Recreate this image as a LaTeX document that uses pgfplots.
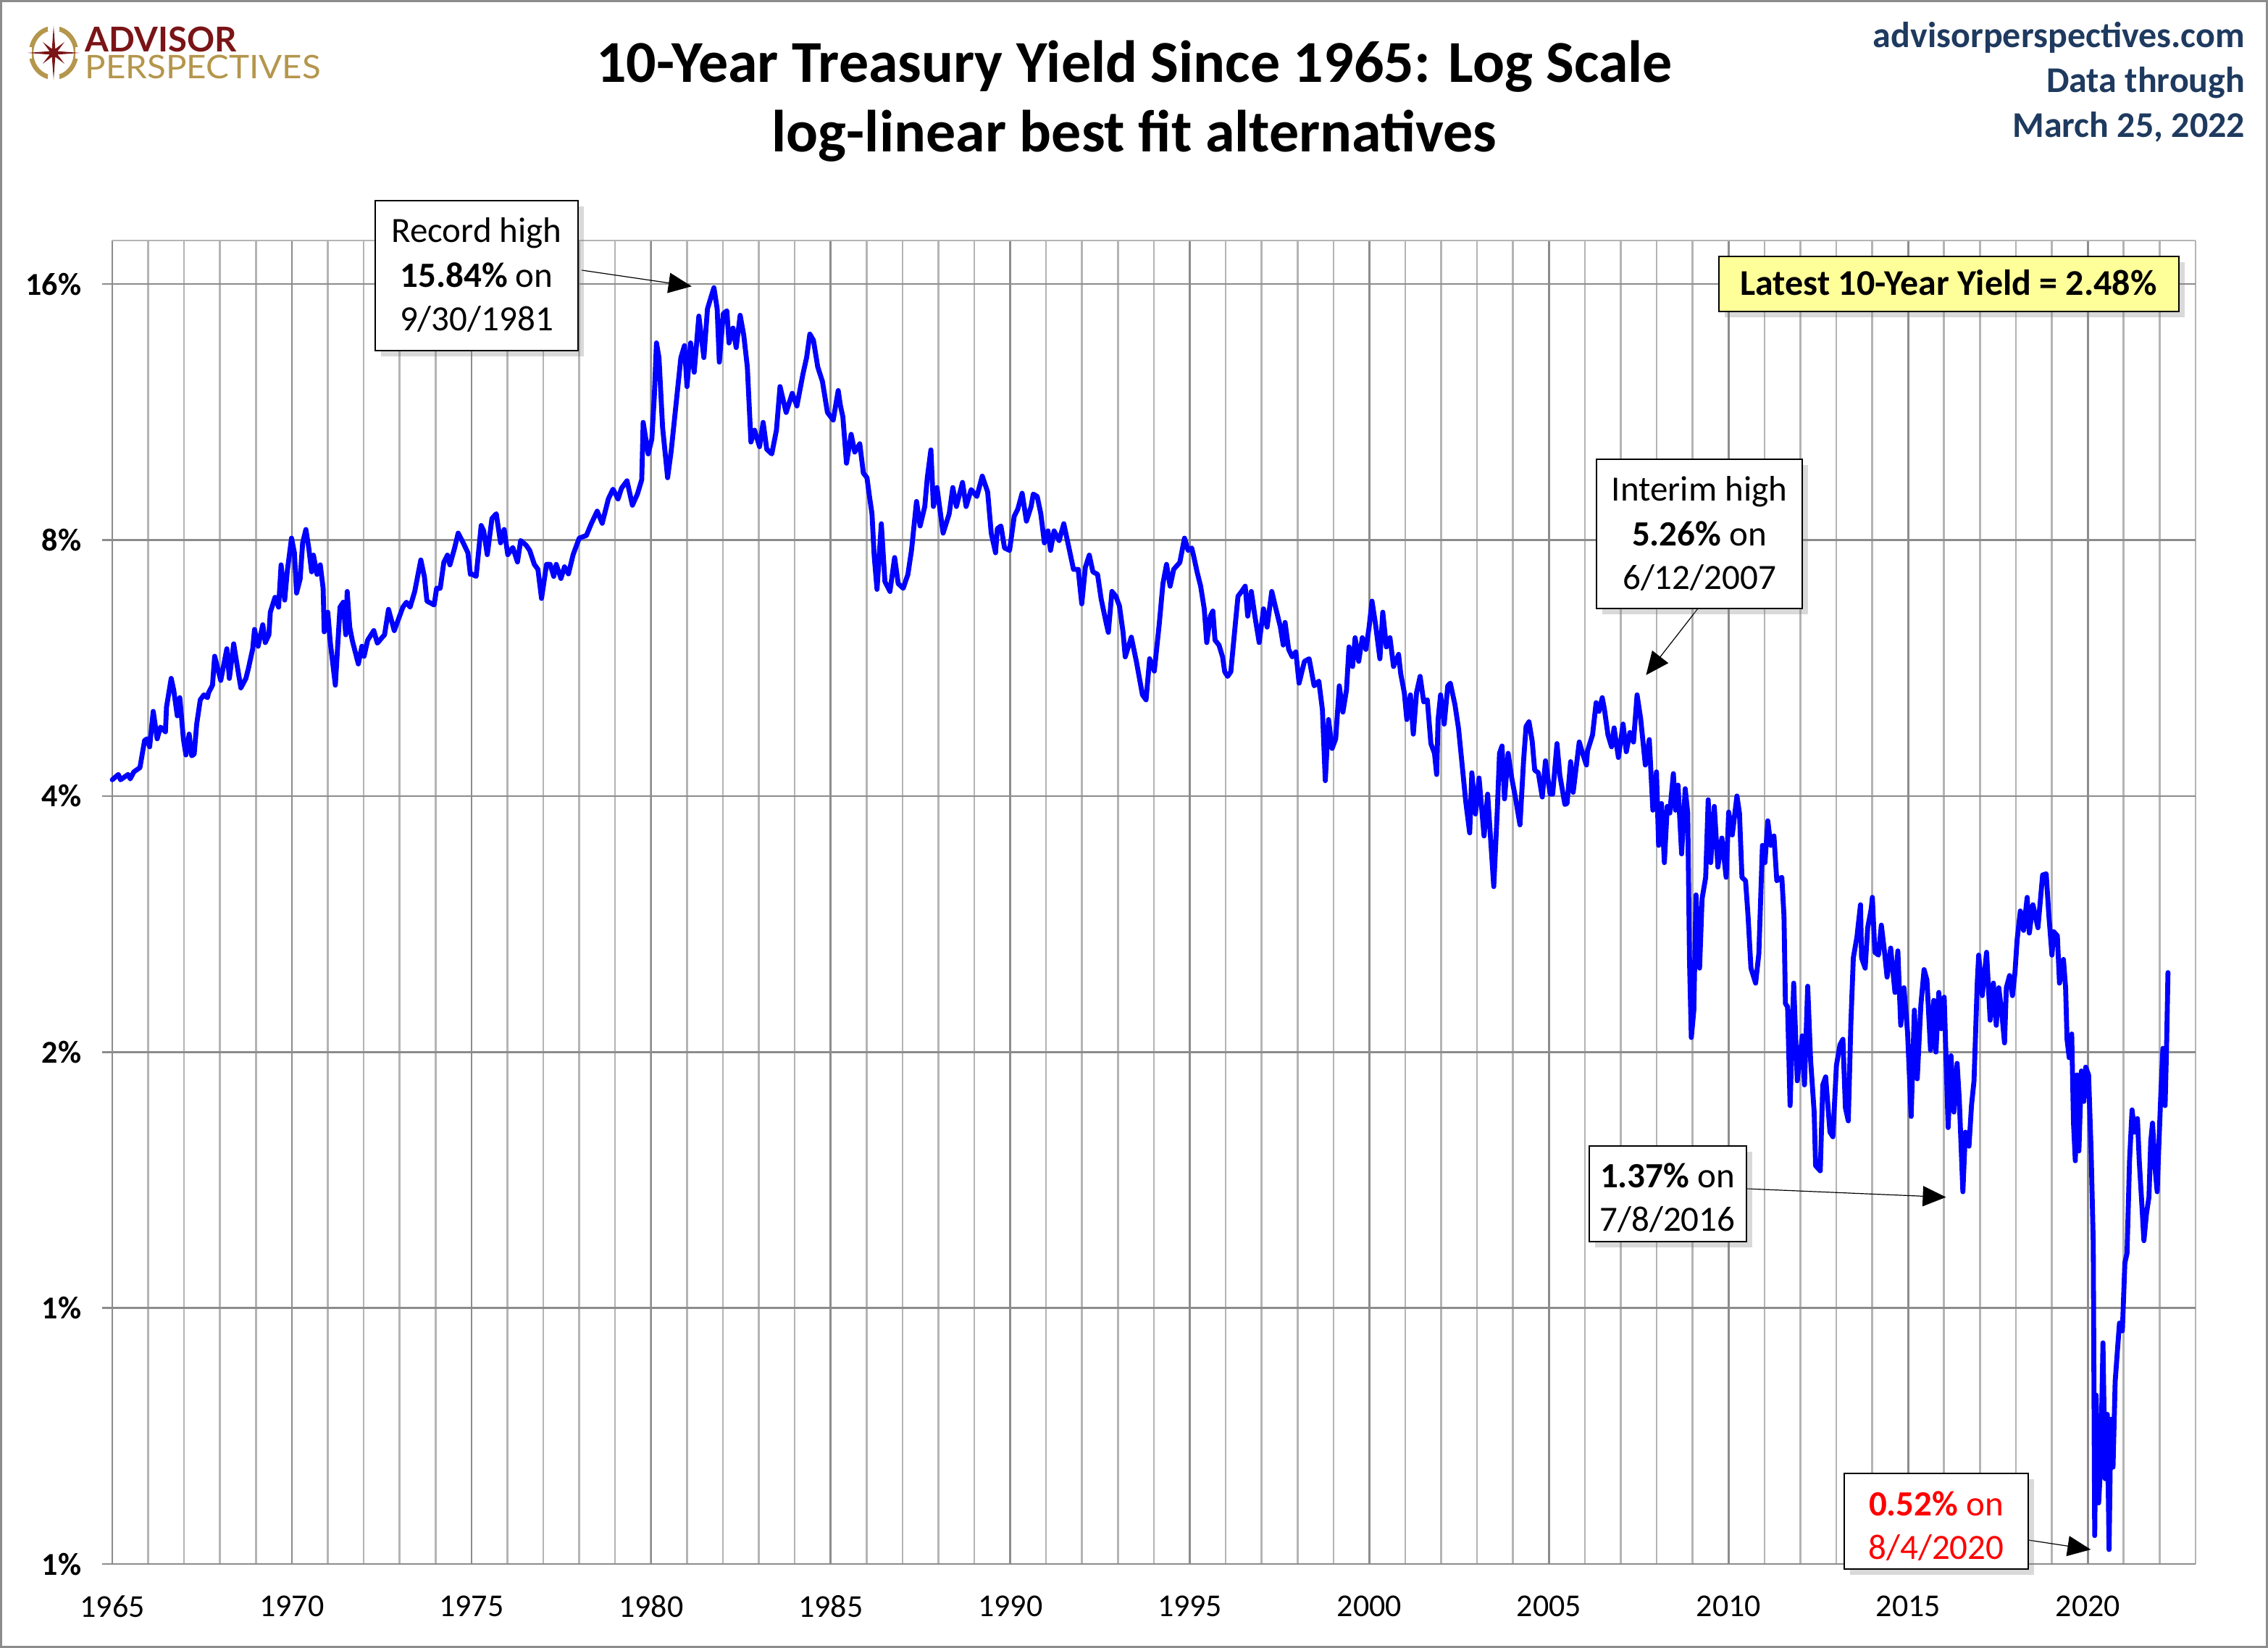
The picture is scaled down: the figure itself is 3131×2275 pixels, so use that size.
\documentclass[border=0pt]{standalone}
\usepackage{pgfplots}
\pgfplotsset{compat=1.18}
\usepackage{pgfplotstable}
\usepackage{fontspec}
\setmainfont{Carlito}
\newfontfamily\logofont{Lato}
\usetikzlibrary{shadows,arrows.meta}
\definecolor{lineblue}{HTML}{0000FF}
\definecolor{gridd}{HTML}{8C8C8C}
\definecolor{gridl}{HTML}{B4B4B4}
\definecolor{navy}{HTML}{1F3A5F}
\definecolor{apmaroon}{HTML}{7A1416}
\definecolor{apgold}{HTML}{B4964C}
\definecolor{boxyellow}{HTML}{FFFF99}
\pgfplotstableread{
year val
1965.00 4.18
1965.17 4.24
1965.23 4.18
1965.44 4.24
1965.50 4.19
1965.60 4.27
1965.77 4.32
1965.90 4.65
1965.97 4.67
1966.04 4.57
1966.14 5.03
1966.25 4.67
1966.34 4.82
1966.48 4.76
1966.51 5.09
1966.64 5.50
1966.71 5.33
1966.81 4.97
1966.88 5.22
1966.98 4.67
1967.05 4.47
1967.14 4.73
1967.21 4.46
1967.28 4.48
1967.35 4.86
1967.45 5.19
1967.55 5.26
1967.65 5.22
1967.68 5.29
1967.79 5.40
1967.85 5.84
1968.02 5.47
1968.19 5.96
1968.26 5.50
1968.38 6.04
1968.49 5.65
1968.58 5.36
1968.72 5.50
1968.79 5.65
1968.91 5.96
1968.96 6.28
1969.06 6.00
1969.19 6.36
1969.26 6.06
1969.36 6.19
1969.40 6.58
1969.53 6.85
1969.63 6.67
1969.70 7.48
1969.80 6.80
1969.87 7.34
1969.99 8.04
1970.07 7.73
1970.13 6.93
1970.23 7.20
1970.30 7.94
1970.39 8.23
1970.47 7.83
1970.55 7.34
1970.60 7.68
1970.70 7.29
1970.79 7.48
1970.87 7.02
1970.90 6.24
1971.00 6.58
1971.07 6.06
1971.21 5.40
1971.34 6.67
1971.43 6.76
1971.50 6.19
1971.54 6.96
1971.61 6.32
1971.68 6.10
1971.85 5.72
1971.95 6.00
1972.01 5.84
1972.11 6.10
1972.28 6.26
1972.38 6.05
1972.52 6.15
1972.58 6.19
1972.69 6.63
1972.85 6.26
1973.09 6.67
1973.19 6.76
1973.29 6.67
1973.42 6.96
1973.59 7.58
1973.69 7.24
1973.76 6.78
1973.96 6.71
1974.03 7.02
1974.13 7.02
1974.23 7.53
1974.33 7.68
1974.40 7.48
1974.53 7.83
1974.63 8.15
1974.77 7.94
1974.90 7.73
1974.97 7.29
1975.00 7.30
1975.13 7.25
1975.27 8.32
1975.34 8.20
1975.44 7.69
1975.57 8.48
1975.69 8.59
1975.81 7.94
1975.91 8.23
1976.01 7.69
1976.15 7.84
1976.28 7.54
1976.37 7.99
1976.52 7.89
1976.62 7.78
1976.75 7.49
1976.85 7.39
1976.95 6.83
1977.09 7.49
1977.19 7.49
1977.29 7.25
1977.36 7.49
1977.49 7.21
1977.59 7.44
1977.70 7.30
1977.83 7.69
1978.00 8.04
1978.20 8.10
1978.34 8.37
1978.50 8.65
1978.64 8.37
1978.81 8.94
1978.94 9.18
1979.08 8.94
1979.18 9.21
1979.33 9.39
1979.48 8.79
1979.62 9.06
1979.74 9.42
1979.78 11.0
1979.92 10.1
1980.02 10.51
1980.09 11.8
1980.15 13.64
1980.22 13.11
1980.32 10.86
1980.46 9.47
1980.56 10.18
1980.69 11.5
1980.83 13.11
1980.93 13.54
1981.00 12.12
1981.10 13.64
1981.20 12.6
1981.33 14.67
1981.47 13.11
1981.57 14.96
1981.67 15.45
1981.75 15.84
1981.84 14.96
1981.90 12.95
1982.01 14.76
1982.11 14.88
1982.17 13.64
1982.28 14.2
1982.37 13.47
1982.48 14.7
1982.58 13.93
1982.68 12.78
1982.78 10.43
1982.88 10.77
1983.02 10.3
1983.12 11.0
1983.22 10.23
1983.36 10.1
1983.49 10.77
1983.59 12.12
1983.76 11.3
1983.93 11.9
1984.06 11.5
1984.23 12.55
1984.33 13.11
1984.42 13.97
1984.52 13.74
1984.64 12.78
1984.77 12.29
1984.91 11.3
1985.07 11.07
1985.21 11.99
1985.27 11.52
1985.34 11.16
1985.44 9.85
1985.57 10.65
1985.67 10.15
1985.81 10.38
1985.91 9.59
1986.01 9.47
1986.08 9.0
1986.15 8.59
1986.21 7.68
1986.29 7.0
1986.41 8.36
1986.51 7.15
1986.65 6.96
1986.78 7.63
1986.88 7.11
1987.02 7.02
1987.15 7.29
1987.25 7.78
1987.39 8.88
1987.49 8.31
1987.62 8.76
1987.69 9.47
1987.79 10.21
1987.86 8.76
1987.96 9.22
1988.13 8.15
1988.30 8.59
1988.40 9.22
1988.50 8.76
1988.67 9.35
1988.77 8.76
1988.91 9.17
1989.07 9.0
1989.22 9.51
1989.37 9.11
1989.47 8.15
1989.59 7.73
1989.64 8.25
1989.74 8.31
1989.84 7.83
1989.98 7.78
1990.11 8.53
1990.21 8.70
1990.33 9.08
1990.45 8.42
1990.58 8.76
1990.64 9.06
1990.75 9.0
1990.85 8.59
1990.95 7.94
1991.05 8.20
1991.12 7.78
1991.22 8.20
1991.36 7.99
1991.49 8.36
1991.62 7.88
1991.76 7.39
1991.89 7.39
1991.99 6.73
1992.09 7.43
1992.20 7.68
1992.30 7.34
1992.43 7.29
1992.53 6.82
1992.67 6.39
1992.73 6.23
1992.83 6.96
1992.94 6.87
1993.04 6.69
1993.14 6.23
1993.20 5.83
1993.37 6.15
1993.51 5.76
1993.68 5.26
1993.78 5.19
1993.88 5.80
1994.01 5.61
1994.15 6.39
1994.25 7.11
1994.35 7.49
1994.45 7.06
1994.55 7.39
1994.72 7.53
1994.85 8.04
1994.95 7.78
1995.05 7.83
1995.10 7.68
1995.20 7.34
1995.30 7.06
1995.40 6.64
1995.47 6.06
1995.57 6.51
1995.64 6.60
1995.70 6.10
1995.81 6.02
1995.91 5.83
1995.97 5.60
1996.05 5.53
1996.14 5.60
1996.21 6.02
1996.28 6.47
1996.34 6.87
1996.44 6.96
1996.54 7.06
1996.61 6.51
1996.71 6.96
1996.81 6.51
1996.93 6.06
1997.05 6.64
1997.15 6.32
1997.28 6.96
1997.38 6.68
1997.52 6.32
1997.60 6.02
1997.65 6.40
1997.75 5.95
1997.85 5.83
1997.95 5.91
1998.04 5.43
1998.19 5.76
1998.32 5.80
1998.46 5.39
1998.59 5.46
1998.69 5.05
1998.77 4.17
1998.86 4.92
1998.96 4.55
1999.06 4.67
1999.16 5.39
1999.26 5.02
1999.36 5.33
1999.43 5.99
1999.53 5.68
1999.60 6.14
1999.70 5.76
1999.80 6.14
1999.90 5.95
1999.99 6.32
2000.07 6.78
2000.17 6.36
2000.29 5.80
2000.37 6.58
2000.47 5.99
2000.57 6.14
2000.67 5.68
2000.81 5.87
2000.87 5.57
2000.97 5.29
2001.04 4.92
2001.14 5.26
2001.22 4.73
2001.31 5.29
2001.41 5.53
2001.51 5.16
2001.61 5.19
2001.71 4.61
2001.81 4.49
2001.87 4.24
2001.91 4.92
2001.98 5.26
2002.08 4.86
2002.18 5.39
2002.25 5.43
2002.38 5.12
2002.48 4.80
2002.58 4.35
2002.68 3.94
2002.79 3.62
2002.85 4.26
2002.95 3.81
2003.05 4.20
2003.19 3.59
2003.29 4.02
2003.46 3.13
2003.56 3.86
2003.62 4.49
2003.69 4.58
2003.76 3.97
2003.86 4.49
2003.96 4.20
2004.06 3.99
2004.19 3.70
2004.29 4.40
2004.36 4.83
2004.44 4.89
2004.53 4.64
2004.60 4.29
2004.70 4.26
2004.81 3.99
2004.90 4.40
2005.03 4.02
2005.10 4.02
2005.22 4.61
2005.30 4.23
2005.44 3.91
2005.50 3.92
2005.60 4.39
2005.67 4.04
2005.84 4.63
2005.94 4.48
2006.04 4.35
2006.07 4.52
2006.21 4.72
2006.31 5.15
2006.39 5.03
2006.48 5.22
2006.54 5.06
2006.64 4.72
2006.74 4.57
2006.81 4.81
2006.93 4.44
2007.06 4.86
2007.15 4.51
2007.25 4.75
2007.35 4.63
2007.45 5.26
2007.55 4.93
2007.68 4.35
2007.79 4.66
2007.89 3.85
2007.99 4.27
2008.05 3.50
2008.13 3.92
2008.21 3.34
2008.29 3.89
2008.36 3.82
2008.46 4.25
2008.52 3.85
2008.59 4.12
2008.69 3.42
2008.79 4.08
2008.86 3.82
2008.91 2.56
2008.96 2.08
2009.03 2.24
2009.09 3.06
2009.19 2.51
2009.26 3.03
2009.36 3.21
2009.43 3.96
2009.50 3.34
2009.60 3.89
2009.70 3.30
2009.81 3.57
2009.93 3.21
2010.00 3.83
2010.10 3.60
2010.23 4.00
2010.30 3.82
2010.37 3.21
2010.47 3.18
2010.54 2.89
2010.62 2.51
2010.75 2.41
2010.84 2.61
2010.94 3.50
2011.01 3.34
2011.09 3.74
2011.17 3.50
2011.26 3.59
2011.34 3.18
2011.48 3.21
2011.54 2.89
2011.58 2.28
2011.64 2.26
2011.71 1.73
2011.81 2.41
2011.91 1.85
2012.05 2.09
2012.11 1.83
2012.20 2.39
2012.28 1.96
2012.38 1.70
2012.42 1.47
2012.55 1.45
2012.62 1.83
2012.70 1.87
2012.82 1.61
2012.90 1.59
2013.00 1.93
2013.10 2.04
2013.18 2.07
2013.25 1.72
2013.33 1.66
2013.40 2.15
2013.47 2.58
2013.57 2.73
2013.67 2.98
2013.70 2.58
2013.80 2.51
2013.87 2.80
2013.97 2.95
2014.00 3.04
2014.07 2.62
2014.17 2.60
2014.25 2.82
2014.34 2.62
2014.41 2.45
2014.51 2.65
2014.63 2.35
2014.71 2.63
2014.79 2.15
2014.88 2.38
2014.98 2.11
2015.08 1.68
2015.17 2.24
2015.25 1.86
2015.35 2.27
2015.44 2.50
2015.52 2.43
2015.62 2.01
2015.71 2.30
2015.77 2.00
2015.85 2.35
2015.92 2.13
2016.00 2.32
2016.11 1.63
2016.19 1.98
2016.27 1.70
2016.36 1.94
2016.42 1.76
2016.52 1.37
2016.59 1.61
2016.69 1.55
2016.76 1.73
2016.83 1.85
2016.92 2.41
2016.96 2.60
2017.06 2.33
2017.18 2.62
2017.28 2.18
2017.37 2.41
2017.45 2.15
2017.52 2.38
2017.60 2.23
2017.68 2.05
2017.73 2.38
2017.82 2.46
2017.90 2.33
2017.97 2.48
2018.03 2.71
2018.12 2.93
2018.21 2.78
2018.31 3.04
2018.37 2.76
2018.47 2.98
2018.61 2.80
2018.74 3.23
2018.84 3.24
2018.91 2.91
2019.00 2.60
2019.05 2.77
2019.15 2.74
2019.21 2.41
2019.32 2.57
2019.38 2.38
2019.42 2.07
2019.48 1.97
2019.55 2.10
2019.60 1.65
2019.65 1.49
2019.70 1.88
2019.75 1.53
2019.82 1.90
2019.89 1.75
2019.94 1.92
2020.02 1.88
2020.09 1.53
2020.15 1.19
2020.19 0.54
2020.23 0.79
2020.30 0.59
2020.36 0.66
2020.42 0.91
2020.48 0.63
2020.54 0.75
2020.59 0.52
2020.64 0.74
2020.70 0.65
2020.76 0.82
2020.83 0.90
2020.88 0.96
2020.96 0.94
2021.03 1.13
2021.09 1.16
2021.16 1.49
2021.23 1.71
2021.30 1.61
2021.38 1.67
2021.43 1.49
2021.50 1.33
2021.56 1.20
2021.63 1.29
2021.70 1.35
2021.75 1.57
2021.80 1.65
2021.87 1.46
2021.93 1.37
2021.97 1.53
2022.03 1.78
2022.09 2.02
2022.15 1.73
2022.19 2.02
2022.23 2.48
}\yields
\begin{document}
\begin{tikzpicture}
\begin{axis}[
  at={(38.75bp,-539.75bp)}, anchor=south west,
  scale only axis, width=719bp, height=456.75bp,
  xmin=1965, xmax=2023,
  ymode=log, log basis y=2, ymin=0.5, ymax=18,
  axis line style={draw=none},
  clip=false,
  xtick={1965,1970,...,2020},
  xticklabels={\mbox{1965},\mbox{1970},\mbox{1975},\mbox{1980},\mbox{1985},\mbox{1990},\mbox{1995},\mbox{2000},\mbox{2005},\mbox{2010},\mbox{2015},\mbox{2020}},
  minor xtick={1966,...,2023},
  ytick={0.5,1,2,4,8,16},
  yticklabels={\textbf{1\%},\textbf{1\%},\textbf{2\%},\textbf{4\%},\textbf{8\%},\textbf{16\%}},
  xmajorgrids, xminorgrids, ymajorgrids,
  major grid style={gridd, line width=0.65bp},
  minor grid style={gridl, line width=0.65bp},
  xtick style={draw=none},
  ytick pos=left,
  tick align=outside,
  major tick length=3.5bp,
  ytick style={gridd, line width=0.65bp},
  yticklabel style={anchor=east, inner sep=0pt, font=\fontsize{11bp}{13bp}\selectfont, xshift=-7bp},
  xticklabel style={anchor=north, inner sep=0pt, font=\fontsize{11bp}{13bp}\selectfont, yshift=-7.25bp},
]
\draw[gridl, line width=0.65bp] (rel axis cs:0,1) -- (rel axis cs:1,1);
\addplot[lineblue, line width=1.7bp, line join=round, line cap=round] table[x=year,y=val]{\yields};
\coordinate (tipRec) at (axis cs:1981.13,15.9);
\coordinate (tipInt) at (axis cs:2007.70,5.55);
\coordinate (tip16) at (axis cs:2016.05,1.35);
\coordinate (tip20) at (axis cs:2020.08,0.52);
\end{axis}
\begin{scope}[x=0.25bp,y=-0.25bp]
% outer frame
\draw[gridd, line width=0.75bp] (1.5,1.5) rectangle (3129.5,2273.5);
% logo
\draw[apgold, line width=1.6bp] (74,73) ellipse [x radius=31, y radius=34];
\fill[white] (66,33) rectangle (82,43);
\fill[white] (66,103) rectangle (82,113);
\fill[white] (34,65) rectangle (44,81);
\fill[white] (104,65) rectangle (114,81);
\fill[apmaroon]
  (110,73) -- (79.5,70.7) -- (89,58) -- (76.3,67.5)
  -- (74,36) -- (71.7,67.5) -- (59,58) -- (68.5,70.7)
  -- (38,73) -- (68.5,75.3) -- (59,88) -- (71.7,78.5)
  -- (74,110) -- (76.3,78.5) -- (89,88) -- (79.5,75.3) -- cycle;
\node[anchor=base west, inner sep=0pt, text=apmaroon, font=\logofont\bfseries\fontsize{11.8bp}{13bp}\selectfont] at (117,72) {ADVISOR};
\node[anchor=base west, inner sep=0pt, text=apgold, font=\logofont\fontsize{11.2bp}{13bp}\selectfont, xscale=1.06] at (117,109) {PERSPECTIVES};
% title
\node[anchor=base, inner sep=0pt, font=\bfseries\fontsize{20.5bp}{24bp}\selectfont] at (1566,114) {10-Year Treasury Yield Since 1965: Log Scale};
\node[anchor=base, inner sep=0pt, font=\bfseries\fontsize{20.5bp}{24bp}\selectfont] at (1566,210) {log-linear best fit alternatives};
% top right
\node[anchor=base east, inner sep=0pt, text=navy, font=\bfseries\fontsize{12.5bp}{15bp}\selectfont] at (3100,66) {advisorperspectives.com};
\node[anchor=base east, inner sep=0pt, text=navy, font=\bfseries\fontsize{12.5bp}{15bp}\selectfont] at (3100,128) {Data through};
\node[anchor=base east, inner sep=0pt, text=navy, font=\bfseries\fontsize{12.5bp}{15bp}\selectfont] at (3100,190) {March 25, 2022};
% latest box
\draw[black, line width=0.5bp, fill=boxyellow, drop shadow={shadow xshift=2bp, shadow yshift=-2bp, opacity=0.3}] (2373,354) rectangle (3008,430);
\node[anchor=base, inner sep=0pt, font=\bfseries\fontsize{12.5bp}{15bp}\selectfont] at (2690,408) {Latest 10-Year Yield = 2.48\%};
% record high
\draw[black, line width=0.3bp, -{Triangle[length=8bp,width=7bp]}] (803,373) -- (tipRec);
\draw[black, line width=0.5bp, fill=white, drop shadow={shadow xshift=2bp, shadow yshift=-2bp, opacity=0.3}] (518,277) rectangle (798,484);
\node[anchor=base, inner sep=0pt, font=\fontsize{12.25bp}{15bp}\selectfont] at (658,335) {Record high};
\node[anchor=base, inner sep=0pt, font=\fontsize{12.25bp}{15bp}\selectfont] at (658,397) {\textbf{15.84\%} on};
\node[anchor=base, inner sep=0pt, font=\fontsize{12.25bp}{15bp}\selectfont] at (658,457) {9/30/1981};
% interim high
\draw[black, line width=0.3bp, -{Triangle[length=8bp,width=7bp]}] (2344,840) -- (tipInt);
\draw[black, line width=0.5bp, fill=white, drop shadow={shadow xshift=2bp, shadow yshift=-2bp, opacity=0.3}] (2204,634) rectangle (2488,840);
\node[anchor=base, inner sep=0pt, font=\fontsize{12.25bp}{15bp}\selectfont] at (2346,692) {Interim high};
\node[anchor=base, inner sep=0pt, font=\fontsize{12.25bp}{15bp}\selectfont] at (2346,754) {\textbf{5.26\%} on};
\node[anchor=base, inner sep=0pt, font=\fontsize{12.25bp}{15bp}\selectfont] at (2346,814) {6/12/2007};
% 2016 low
\draw[black, line width=0.3bp, -{Triangle[length=8bp,width=7bp]}] (2411,1641) -- (tip16);
\draw[black, line width=0.5bp, fill=white, drop shadow={shadow xshift=2bp, shadow yshift=-2bp, opacity=0.3}] (2194,1582) rectangle (2411,1714);
\node[anchor=base, inner sep=0pt, font=\fontsize{12.25bp}{15bp}\selectfont] at (2302,1640) {\textbf{1.37\%} on};
\node[anchor=base, inner sep=0pt, font=\fontsize{12.25bp}{15bp}\selectfont] at (2302,1700) {7/8/2016};
% 2020 low
\draw[black, line width=0.3bp, -{Triangle[length=8bp,width=7bp]}] (2800,2126) -- (tip20);
\draw[black, line width=0.5bp, fill=white, drop shadow={shadow xshift=2bp, shadow yshift=-2bp, opacity=0.3}] (2546,2034) rectangle (2800,2166);
\node[anchor=base, inner sep=0pt, text=red, font=\fontsize{12.25bp}{15bp}\selectfont] at (2673,2092) {\textbf{0.52\%} on};
\node[anchor=base, inner sep=0pt, text=red, font=\fontsize{12.25bp}{15bp}\selectfont] at (2673,2152) {8/4/2020};
\pgfresetboundingbox
\useasboundingbox (0,0) rectangle (3131,2275);
\end{scope}
\end{tikzpicture}
\end{document}
